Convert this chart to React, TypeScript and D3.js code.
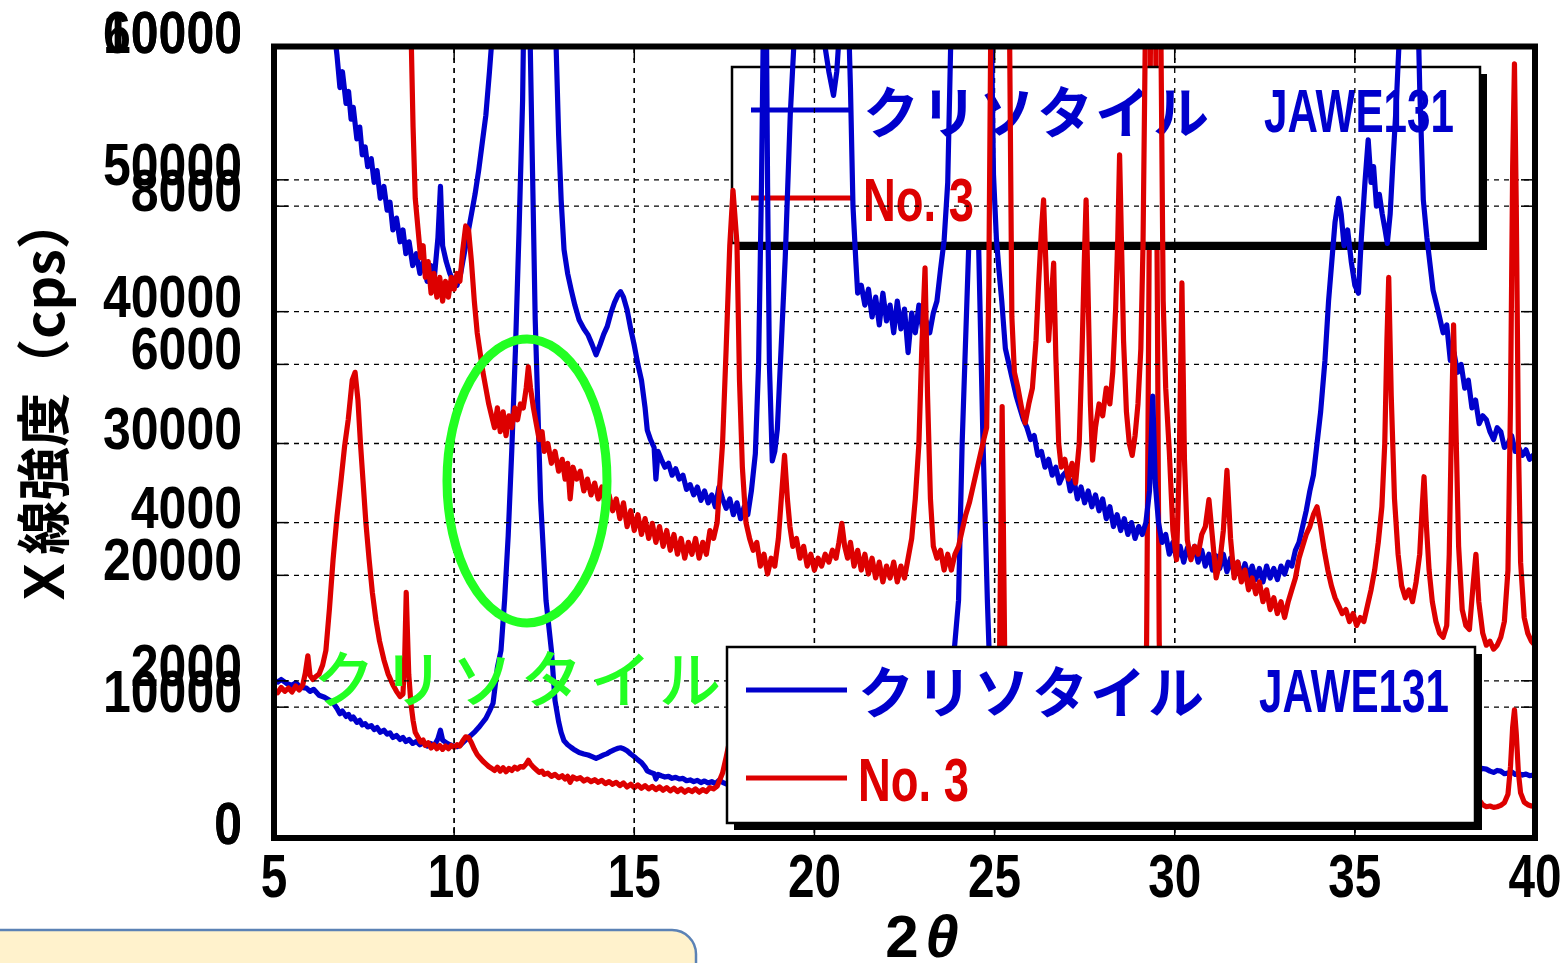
import React from 'react';
import * as d3 from 'd3';

type Pt = [number, number];

// 2θ (deg), intensity (cps) — chrysotile JAWE131 (blue)
const chrysotileJAWE131: Pt[] = [
  [5.0, 12060], [5.1, 11900], [5.2, 12100], [5.35, 11800], [5.5, 11650], [5.6, 11850], [5.75, 11500],
  [5.9, 11450], [6.0, 11200], [6.1, 11350], [6.25, 10900], [6.4, 10750], [6.55, 10500], [6.65, 10300],
  [6.75, 9900], [6.83, 9500], [6.9, 9700], [7.0, 9300], [7.07, 9450], [7.14, 9100], [7.2, 9250],
  [7.3, 8850], [7.38, 9000], [7.45, 8650], [7.53, 8750], [7.6, 8500], [7.7, 8600], [7.78, 8300],
  [7.86, 8450], [7.95, 8100], [8.05, 8250], [8.14, 7950], [8.22, 8050], [8.3, 7700], [8.4, 7850],
  [8.5, 7550], [8.58, 7700], [8.66, 7400], [8.75, 7550], [8.85, 7250], [8.95, 7400], [9.05, 7150],
  [9.15, 7300], [9.25, 7050], [9.35, 7250], [9.45, 7100], [9.55, 7600], [9.62, 8250], [9.68, 7500],
  [9.78, 7300], [9.88, 7150], [9.98, 7050], [10.08, 7000], [10.18, 7150], [10.28, 7400], [10.38, 7650],
  [10.48, 7900], [10.58, 8150], [10.68, 8450], [10.78, 8800], [10.88, 9150], [10.98, 9700], [11.08, 10300],
  [11.2, 13000], [11.3, 14300], [11.4, 18100], [11.5, 23000], [11.6, 29500], [11.7, 37000], [11.8, 46000],
  [11.9, 56000], [11.95, 66000], [12.0, 72000], [12.05, 70000], [12.1, 62000], [12.18, 50000], [12.25, 39400],
  [12.4, 25700], [12.55, 18100], [12.7, 14300], [12.8, 10500], [12.9, 8900], [12.97, 8080], [13.05, 7450],
  [13.15, 7150], [13.25, 6940], [13.35, 6750], [13.47, 6560], [13.6, 6450], [13.72, 6370], [13.83, 6250],
  [13.94, 6120], [14.05, 6250], [14.15, 6380], [14.25, 6480], [14.35, 6650], [14.45, 6780], [14.55, 6880],
  [14.62, 6920], [14.7, 6850], [14.8, 6690], [14.9, 6450], [15.0, 6240], [15.1, 6000], [15.2, 5800],
  [15.3, 5450], [15.36, 5170], [15.45, 5050], [15.55, 4950], [15.6, 4550], [15.66, 4900], [15.75, 4800],
  [15.85, 4700], [15.95, 4750], [16.05, 4600], [16.15, 4680], [16.25, 4550], [16.35, 4600], [16.45, 4420],
  [16.55, 4480], [16.65, 4350], [16.75, 4450], [16.85, 4280], [16.95, 4400], [17.05, 4250], [17.15, 4350],
  [17.25, 4200], [17.35, 4450], [17.45, 4300], [17.55, 4180], [17.65, 4300], [17.75, 4100], [17.85, 4250],
  [17.95, 4050], [18.05, 4200], [18.15, 4100], [18.25, 4400], [18.36, 4870], [18.45, 6000], [18.53, 8250],
  [18.6, 11000], [18.65, 11500], [18.7, 8250], [18.75, 6000], [18.83, 4780], [18.9, 4900], [18.97, 5180],
  [19.1, 6450], [19.19, 7350], [19.33, 9160], [19.47, 10400], [19.65, 12500], [19.85, 13200], [20.05, 12300],
  [20.2, 10800], [20.3, 10000], [20.4, 9700], [20.53, 9400], [20.62, 9700], [20.72, 10400], [20.82, 11200],
  [20.92, 10800], [21.0, 9500], [21.07, 8000], [21.15, 7300], [21.2, 6900], [21.3, 7000], [21.4, 6750],
  [21.5, 6950], [21.6, 6600], [21.7, 6850], [21.8, 6500], [21.9, 6900], [22.0, 6550], [22.1, 6750],
  [22.2, 6400], [22.3, 6800], [22.4, 6450], [22.5, 6700], [22.6, 6150], [22.7, 6650], [22.8, 6400],
  [22.9, 6750], [23.0, 6450], [23.1, 6550], [23.2, 6400], [23.3, 6650], [23.4, 6800], [23.5, 7200],
  [23.6, 7570], [23.7, 8300], [23.78, 10000], [23.88, 14300], [24.0, 18100], [24.1, 30000], [24.28, 44700],
  [24.36, 52000], [24.44, 52000], [24.56, 44700], [24.68, 30000], [24.8, 18100], [24.87, 12500], [24.92, 10000],
  [24.97, 8400], [25.05, 7600], [25.12, 7200], [25.2, 6800], [25.3, 6200], [25.4, 6000], [25.5, 5800],
  [25.6, 5600], [25.7, 5450], [25.8, 5300], [25.9, 5200], [26.0, 5050], [26.1, 5100], [26.2, 4850],
  [26.3, 4900], [26.4, 4700], [26.5, 4800], [26.6, 4600], [26.7, 4700], [26.8, 4500], [26.9, 4600],
  [27.0, 4650], [27.1, 4400], [27.2, 4550], [27.3, 4300], [27.4, 4450], [27.5, 4250], [27.6, 4400],
  [27.7, 4200], [27.8, 4350], [27.9, 4150], [28.0, 4300], [28.1, 4050], [28.2, 4200], [28.3, 3950],
  [28.4, 4100], [28.5, 3900], [28.6, 4050], [28.7, 3850], [28.8, 4000], [28.9, 3800], [29.0, 3950],
  [29.1, 3850], [29.2, 4000], [29.3, 4400], [29.39, 5600], [29.46, 4500], [29.55, 4000], [29.65, 3750],
  [29.75, 3850], [29.85, 3600], [29.95, 3750], [30.05, 3550], [30.15, 3700], [30.25, 3500], [30.35, 3680],
  [30.45, 3550], [30.55, 3700], [30.65, 3500], [30.75, 3650], [30.85, 3450], [30.95, 3600], [31.05, 3400],
  [31.15, 3580], [31.25, 3420], [31.35, 3600], [31.45, 3380], [31.55, 3550], [31.65, 3350], [31.75, 3500],
  [31.85, 3300], [31.95, 3480], [32.05, 3300], [32.15, 3450], [32.25, 3280], [32.35, 3420], [32.45, 3250],
  [32.55, 3450], [32.65, 3300], [32.75, 3420], [32.85, 3280], [32.95, 3450], [33.05, 3350], [33.15, 3500],
  [33.25, 3450], [33.35, 3650], [33.45, 3750], [33.55, 3950], [33.65, 4150], [33.75, 4400], [33.85, 4600],
  [33.95, 5000], [34.05, 5400], [34.17, 6050], [34.27, 6800], [34.36, 7300], [34.45, 7800], [34.55, 8100],
  [34.62, 7900], [34.7, 7500], [34.8, 7700], [34.9, 7300], [35.0, 7000], [35.1, 6900], [35.18, 7600],
  [35.28, 8300], [35.37, 8840], [35.45, 8300], [35.52, 8500], [35.6, 8000], [35.68, 8150], [35.76, 7900],
  [35.84, 7700], [35.9, 7530], [35.98, 7900], [36.05, 8500], [36.15, 9300], [36.25, 10300], [36.4, 12000],
  [36.55, 12800], [36.7, 11500], [36.8, 9500], [36.9, 8080], [37.0, 7600], [37.17, 6940], [37.3, 6700],
  [37.45, 6400], [37.55, 6500], [37.65, 6050], [37.75, 6150], [37.85, 5900], [37.95, 6000], [38.05, 5700],
  [38.15, 5800], [38.25, 5450], [38.35, 5550], [38.45, 5250], [38.55, 5350], [38.65, 5300], [38.75, 5150],
  [38.85, 5050], [38.95, 5200], [39.05, 5150], [39.15, 4950], [39.25, 5000], [39.35, 5100], [39.45, 4900],
  [39.55, 4950], [39.65, 4850], [39.75, 4920], [39.85, 4800], [39.95, 4850], [40.0, 4790],
];

// 2θ (deg), intensity (cps) — sample No. 3 (red)
const sampleNo3: Pt[] = [
  [5.0, 11300], [5.1, 11100], [5.2, 11500], [5.3, 11200], [5.4, 11450], [5.5, 11150], [5.6, 11600],
  [5.7, 11300], [5.8, 11700], [5.87, 12600], [5.94, 13900], [6.0, 12400], [6.08, 12100], [6.15, 12300],
  [6.25, 12500], [6.35, 13200], [6.44, 14300], [6.54, 17500], [6.64, 21200], [6.75, 24500], [6.86, 27200],
  [6.96, 29800], [7.06, 31800], [7.17, 34800], [7.25, 35400], [7.33, 33300], [7.4, 30000], [7.47, 27200],
  [7.55, 24000], [7.64, 21200], [7.73, 18700], [7.83, 16600], [7.93, 15000], [8.05, 13600], [8.17, 12500],
  [8.3, 11700], [8.4, 11200], [8.5, 10800], [8.58, 11000], [8.63, 14000], [8.67, 18700], [8.7, 16000],
  [8.74, 12500], [8.8, 10300], [8.86, 9000], [8.92, 8100], [9.0, 7700], [9.07, 7350], [9.14, 7500],
  [9.2, 7100], [9.28, 7300], [9.36, 6900], [9.44, 7150], [9.52, 6850], [9.6, 7100], [9.68, 6800],
  [9.76, 7050], [9.84, 6850], [9.92, 7100], [10.0, 6950], [10.08, 7150], [10.16, 7050], [10.24, 7450],
  [10.32, 7750], [10.4, 7700], [10.48, 7300], [10.56, 6800], [10.64, 6400], [10.72, 6150], [10.8, 5900],
  [10.88, 5700], [10.96, 5500], [11.04, 5350], [11.12, 5200], [11.2, 5450], [11.28, 5150], [11.36, 5400],
  [11.44, 5100], [11.52, 5350], [11.6, 5200], [11.68, 5450], [11.76, 5300], [11.84, 5500], [11.92, 5450],
  [12.0, 5700], [12.06, 5970], [12.12, 5700], [12.2, 5450], [12.28, 5250], [12.36, 5050], [12.44, 5150],
  [12.5, 4900], [12.6, 5000], [12.7, 4750], [12.8, 4900], [12.9, 4650], [13.0, 4800], [13.08, 4550],
  [13.15, 4750], [13.22, 4300], [13.3, 4700], [13.4, 4550], [13.5, 4650], [13.6, 4400], [13.7, 4550],
  [13.8, 4350], [13.9, 4500], [14.0, 4300], [14.1, 4450], [14.2, 4200], [14.3, 4350], [14.4, 4150],
  [14.5, 4300], [14.6, 4050], [14.7, 4250], [14.8, 3950], [14.9, 4150], [15.0, 3900], [15.1, 4100],
  [15.2, 3850], [15.3, 4050], [15.4, 3800], [15.5, 3990], [15.6, 3750], [15.7, 3950], [15.8, 3700],
  [15.9, 3900], [16.0, 3650], [16.1, 3850], [16.2, 3600], [16.3, 3800], [16.4, 3550], [16.5, 3750],
  [16.6, 3600], [16.7, 3800], [16.8, 3550], [16.9, 3750], [17.0, 3600], [17.1, 3900], [17.2, 3800],
  [17.3, 4000], [17.45, 5000], [17.55, 6200], [17.65, 7500], [17.74, 8200], [17.85, 7530], [17.92, 5800],
  [18.0, 4700], [18.1, 4000], [18.2, 3800], [18.3, 3650], [18.4, 3750], [18.5, 3450], [18.6, 3600],
  [18.7, 3350], [18.8, 3550], [18.9, 3450], [19.0, 3800], [19.08, 4300], [19.17, 4850], [19.25, 4300],
  [19.32, 3950], [19.4, 3700], [19.5, 3800], [19.6, 3550], [19.7, 3700], [19.8, 3450], [19.9, 3600],
  [20.0, 3400], [20.1, 3550], [20.2, 3450], [20.3, 3600], [20.4, 3500], [20.5, 3650], [20.6, 3550],
  [20.68, 3750], [20.76, 3990], [20.84, 3700], [20.92, 3550], [21.0, 3750], [21.1, 3450], [21.2, 3650],
  [21.3, 3400], [21.4, 3600], [21.5, 3350], [21.6, 3550], [21.7, 3300], [21.8, 3500], [21.9, 3250],
  [22.0, 3450], [22.1, 3300], [22.2, 3500], [22.3, 3250], [22.4, 3450], [22.5, 3300], [22.6, 3550],
  [22.7, 3800], [22.8, 4300], [22.9, 5000], [22.98, 6200], [23.07, 7220], [23.14, 5600], [23.22, 4300],
  [23.3, 3700], [23.4, 3550], [23.5, 3650], [23.6, 3400], [23.7, 3600], [23.8, 3400], [23.9, 3600],
  [24.0, 3700], [24.1, 3900], [24.2, 4100], [24.3, 4250], [24.4, 4450], [24.5, 4650], [24.6, 4850],
  [24.7, 5050], [24.78, 5200], [24.84, 7000], [24.89, 10000], [25.0, 11500], [25.08, 12500], [25.14, 14300],
  [25.21, 32800], [25.28, 14300], [25.35, 11500], [25.42, 10000], [25.48, 6600], [25.55, 5900], [25.65, 5700],
  [25.75, 5450], [25.85, 5260], [25.95, 5500], [26.05, 5700], [26.15, 6300], [26.22, 7000], [26.3, 7700],
  [26.36, 8080], [26.43, 7200], [26.5, 6300], [26.57, 6800], [26.64, 7280], [26.7, 6100], [26.78, 5000],
  [26.85, 4700], [26.95, 4800], [27.05, 4550], [27.15, 4750], [27.25, 4500], [27.35, 5000], [27.43, 6200],
  [27.49, 7300], [27.54, 8080], [27.6, 6800], [27.66, 5500], [27.72, 4790], [27.8, 5200], [27.9, 5500],
  [28.0, 5350], [28.1, 5700], [28.2, 5500], [28.28, 5900], [28.36, 6700], [28.42, 7600], [28.47, 8650],
  [28.52, 7600], [28.58, 6300], [28.66, 5400], [28.74, 5000], [28.82, 4850], [28.9, 5100], [28.98, 5500],
  [29.06, 6200], [29.12, 7500], [29.18, 10000], [29.22, 15000], [29.28, 40000], [29.33, 62000], [29.4, 78000],
  [29.47, 62000], [29.52, 40000], [29.57, 15000], [29.62, 10000], [29.68, 6800], [29.75, 5700], [29.85, 4900],
  [29.95, 3900], [30.05, 3530], [30.12, 4600], [30.2, 7030], [30.27, 4800], [30.35, 3780], [30.45, 3530],
  [30.55, 3700], [30.65, 3600], [30.75, 3850], [30.85, 3950], [30.95, 4290], [31.05, 3800], [31.15, 3300],
  [31.25, 3500], [31.35, 3900], [31.45, 4660], [31.55, 3800], [31.65, 3300], [31.75, 3500], [31.85, 3250],
  [31.95, 3400], [32.05, 3150], [32.15, 3300], [32.25, 3100], [32.35, 3250], [32.45, 3000], [32.55, 3150],
  [32.65, 2900], [32.75, 3050], [32.85, 2850], [32.95, 3000], [33.05, 2800], [33.15, 3000], [33.25, 3150],
  [33.35, 3300], [33.45, 3550], [33.55, 3700], [33.65, 3850], [33.75, 3950], [33.85, 4100], [33.95, 4200],
  [34.05, 3950], [34.15, 3650], [34.25, 3400], [34.35, 3200], [34.45, 3050], [34.55, 2950], [34.65, 2850],
  [34.75, 2900], [34.85, 2750], [34.95, 2850], [35.05, 2700], [35.15, 2800], [35.25, 2750], [35.35, 2950],
  [35.45, 3150], [35.55, 3400], [35.65, 3750], [35.75, 4200], [35.83, 5000], [35.89, 6300], [35.94, 7100],
  [36.01, 5600], [36.1, 4300], [36.2, 3600], [36.3, 3200], [36.4, 3050], [36.5, 3150], [36.6, 3000],
  [36.7, 3250], [36.8, 3600], [36.87, 4200], [36.92, 4580], [36.98, 4000], [37.06, 3400], [37.15, 3000],
  [37.25, 2750], [37.35, 2600], [37.45, 2550], [37.55, 2700], [37.62, 3600], [37.68, 5200], [37.74, 6500],
  [37.8, 5300], [37.88, 3700], [37.98, 2900], [38.08, 2700], [38.18, 2650], [38.28, 3200], [38.36, 3600],
  [38.44, 3000], [38.55, 2600], [38.65, 2450], [38.75, 2500], [38.85, 2400], [38.95, 2450], [39.05, 2550],
  [39.15, 2750], [39.25, 3400], [39.32, 5500], [39.38, 8500], [39.43, 9800], [39.48, 8000], [39.54, 5000],
  [39.6, 3500], [39.7, 2800], [39.8, 2600], [39.9, 2500], [40.0, 2450],
];

const xTickValues = [5, 10, 15, 20, 25, 30, 35, 40];
const yTicksFullScale = [0, 10000, 20000, 30000, 40000, 50000, 60000];
const yTicksZoomScale = [0, 2000, 4000, 6000, 8000, 10000];
const legendKana = 'クリソタイル';
const legendCode = 'JAWE131';
const legendSample = 'No. 3';
const annotationLabel = 'クリソタイル';
const yTitle = 'Ｘ線強度（cps）';
const xTitleDigit = '2';
const xTitleTheta = 'θ';

const W = 1568;
const H = 963;
const PL = 274;
const PR = 1535;
const PT = 48;
const PB = 839;

const BLUE = '#0000cc';
const RED = '#dd0000';
const GREEN = '#22ff22';
const NUM_FONT = "'Liberation Sans', Arial, sans-serif";
const JP_FONT = "'Noto Sans CJK JP', 'Noto Sans CJK SC', sans-serif";
const LINE_W = 5.2;

function Legend({ lx, ly }: { lx: number; ly: number }) {
  const w = 748;
  const h = 176;
  return (
    <g>
      <rect x={lx + 7} y={ly + 7} width={w} height={h} fill="#000" />
      <rect x={lx} y={ly} width={w} height={h} fill="#fff" stroke="#000" strokeWidth={2.5} />
      <line x1={lx + 19} x2={lx + 120} y1={ly + 43} y2={ly + 43} stroke={BLUE} strokeWidth={5} />
      <text x={lx + 131} y={ly + 66} fontFamily={JP_FONT} fontWeight={700} fontSize={56} fill={BLUE}
        textLength={346} lengthAdjust="spacing">{legendKana}</text>
      <text x={lx + 532} y={ly + 65} fontFamily={NUM_FONT} fontWeight={700} fontSize={62} fill={BLUE}
        textLength={190} lengthAdjust="spacingAndGlyphs">{legendCode}</text>
      <line x1={lx + 19} x2={lx + 120} y1={ly + 131} y2={ly + 131} stroke={RED} strokeWidth={5} />
      <text x={lx + 131} y={ly + 154} fontFamily={NUM_FONT} fontWeight={700} fontSize={62} fill={RED}
        textLength={111} lengthAdjust="spacingAndGlyphs">{legendSample}</text>
    </g>
  );
}

export default function App() {
  const x = d3.scaleLinear().domain([5, 40]).range([PL, PR]);
  const yA = d3.scaleLinear().domain([0, 60000]).range([PB, PT]);
  const yB = d3.scaleLinear().domain([0, 10000]).range([PB, PT]);
  const lineA = d3.line<Pt>().x((d) => x(d[0])).y((d) => yA(d[1]));
  const lineB = d3.line<Pt>().x((d) => x(d[0])).y((d) => yB(d[1]));

  const grid = (ticks: number[], ys: d3.ScaleLinear<number, number>, k: string) => (
    <g stroke="#000" strokeWidth={1.3} strokeDasharray="5,5" fill="none">
      {ticks.filter((v) => v > 0 && ys(v) > PT + 2).map((v) => (
        <line key={k + 'h' + v} x1={PL} x2={PR} y1={ys(v)} y2={ys(v)} />
      ))}
      {xTickValues.slice(1, -1).map((v) => (
        <line key={k + 'v' + v} x1={x(v)} x2={x(v)} y1={PT} y2={PB} />
      ))}
    </g>
  );

  const ticks = (tv: number[], ys: d3.ScaleLinear<number, number>, k: string) => (
    <g stroke="#000" strokeWidth={1.5}>
      {tv.map((v) => (
        <g key={k + v}>
          <line x1={PL} x2={PL + 14} y1={ys(v)} y2={ys(v)} />
          <line x1={PR - 14} x2={PR} y1={ys(v)} y2={ys(v)} />
        </g>
      ))}
    </g>
  );

  return (
    <svg width={W} height={H} style={{ position: 'absolute', left: 0, top: 0, background: '#fff' }}>
      <defs>
        <clipPath id="plotClip">
          <rect x={PL} y={PT - 1} width={PR - PL} height={PB - PT + 1} />
        </clipPath>
      </defs>

      {/* bottom-left yellow note box */}
      <rect x={-30} y={930} width={726} height={80} rx={24} fill="#fff2cc" stroke="#5b82b5" strokeWidth={2.5} />

      {/* full-scale chart (0–60000) */}
      {grid(yTicksFullScale, yA, 'A')}
      <g clipPath="url(#plotClip)" fill="none" strokeWidth={LINE_W} strokeLinejoin="round">
        <path d={lineA(chrysotileJAWE131) || ''} stroke={BLUE} />
        <path d={lineA(sampleNo3) || ''} stroke={RED} />
      </g>
      <Legend lx={732} ly={67} />

      {/* zoomed chart (0–10000) */}
      {grid(yTicksZoomScale, yB, 'B')}
      <g clipPath="url(#plotClip)" fill="none" strokeWidth={LINE_W} strokeLinejoin="round">
        <path d={lineB(chrysotileJAWE131) || ''} stroke={BLUE} />
        <path d={lineB(sampleNo3) || ''} stroke={RED} />
      </g>
      <Legend lx={727} ly={647} />

      {/* ticks and frame */}
      {ticks(yTicksFullScale, yA, 'tA')}
      {ticks(yTicksZoomScale, yB, 'tB')}
      <g stroke="#000" strokeWidth={1.5}>
        {xTickValues.map((v) => (
          <g key={'xt' + v}>
            <line x1={x(v)} x2={x(v)} y1={PB - 12} y2={PB} />
            <line x1={x(v)} x2={x(v)} y1={PT} y2={PT + 12} />
          </g>
        ))}
      </g>
      <rect x={PL} y={PT - 1.5} width={PR - PL} height={PB - PT + 0.5} fill="none" stroke="#000" strokeWidth={6} />

      {/* y tick labels (both scales, overlapping as in the original) */}
      <g fontFamily={NUM_FONT} fontWeight={700} fontSize={60} fill="#000" textAnchor="end">
        {yTicksFullScale.map((v) => (
          <text key={'la' + v} x={242} y={yA(v) + 5} textLength={String(v).length * 27.8} lengthAdjust="spacingAndGlyphs">{v}</text>
        ))}
        {yTicksZoomScale.map((v) => (
          <text key={'lb' + v} x={242} y={yB(v) + 5} textLength={String(v).length * 27.8} lengthAdjust="spacingAndGlyphs">{v}</text>
        ))}
      </g>

      {/* x tick labels */}
      <g fontFamily={NUM_FONT} fontWeight={700} fontSize={62} fill="#000" textAnchor="middle">
        {xTickValues.map((v) => (
          <text key={'lx' + v} x={x(v)} y={897} textLength={String(v).length * 26.5} lengthAdjust="spacingAndGlyphs">{v}</text>
        ))}
      </g>

      {/* axis titles */}
      <text transform="translate(64,402) rotate(-90)" textAnchor="middle" fontFamily={JP_FONT} fontWeight={700}
        fontSize={54} fill="#000">{yTitle}</text>
      <text x={902} y={957} textAnchor="middle" fontFamily={NUM_FONT} fontWeight={700} fontSize={60} fill="#000">{xTitleDigit}</text>
      <text x={942} y={957} textAnchor="middle" fontFamily={NUM_FONT} fontWeight={700} fontStyle="italic" fontSize={60} fill="#000">{xTitleTheta}</text>

      {/* green annotation */}
      <ellipse cx={527} cy={481} rx={80} ry={142} fill="none" stroke={GREEN} strokeWidth={9} />
      <text x={313} y={703} fontFamily={JP_FONT} fontWeight={500} fontSize={62} fill={GREEN}
        textLength={408} lengthAdjust="spacing">{annotationLabel}</text>
    </svg>
  );
}
